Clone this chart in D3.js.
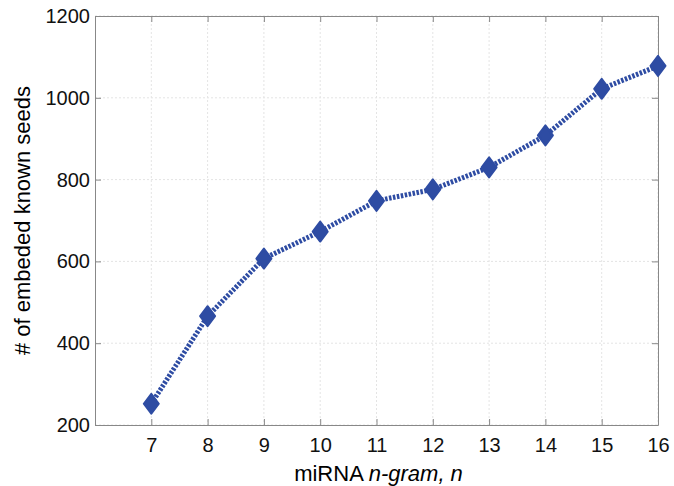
<!DOCTYPE html>
<html>
<head>
<meta charset="utf-8">
<script src="https://cdn.jsdelivr.net/npm/d3@7"></script>
<style>
  body { margin: 0; background: #fff; }
  text { font-family: "Liberation Sans", Arial, sans-serif; }
</style>
</head>
<body>
<div id="chart"></div>
<script>
// data
var ngram = [7, 8, 9, 10, 11, 12, 13, 14, 15, 16];
var seeds = [252, 466, 607, 673, 748, 776, 830, 908, 1022, 1078];
var xTicks = [7, 8, 9, 10, 11, 12, 13, 14, 15, 16];
var yTicks = [200, 400, 600, 800, 1000, 1200];

var margin = {top: 16, right: 16, bottom: 61, left: 95},
    width = 674 - margin.left - margin.right,
    height = 486 - margin.top - margin.bottom;

var svg = d3.select("#chart")
  .append("svg")
    .attr("width", 674)
    .attr("height", 486)
  .append("g")
    .attr("transform", "translate(" + margin.left + "," + margin.top + ")");

var x = d3.scaleLinear().domain([6, 16]).range([0, width]);
var y = d3.scaleLinear().domain([200, 1200]).range([height, 0]);

// grid
svg.append("g").selectAll("line")
  .data(xTicks)
  .enter().append("line")
    .attr("x1", d => x(d)).attr("x2", d => x(d))
    .attr("y1", 0).attr("y2", height)
    .attr("stroke", "#e4e4e4").attr("stroke-dasharray", "2,2");
svg.append("g").selectAll("line")
  .data(yTicks)
  .enter().append("line")
    .attr("x1", 0).attr("x2", width)
    .attr("y1", d => y(d)).attr("y2", d => y(d))
    .attr("stroke", "#e4e4e4").attr("stroke-dasharray", "2,2");

// axes, ticks inward like matlab
function styleAxis(g) {
  g.attr("font-size", null).attr("font-family", null);
  g.select(".domain").attr("stroke", "#888");
  g.selectAll(".tick line").attr("stroke", "#888");
  g.selectAll(".tick text").attr("fill", "#111").style("font-size", "20px");
}
svg.append("g")
  .attr("transform", "translate(0," + height + ")")
  .call(d3.axisBottom(x).tickValues(xTicks).tickSize(-6).tickSizeOuter(0).tickPadding(13))
  .call(styleAxis);
svg.append("g")
  .call(d3.axisLeft(y).tickValues(yTicks).tickFormat(d3.format("d")).tickSize(-6).tickSizeOuter(0).tickPadding(5))
  .call(styleAxis);
svg.append("g")
  .call(d3.axisTop(x).tickValues(xTicks).tickSize(-6).tickSizeOuter(0).tickFormat(""))
  .call(styleAxis);
svg.append("g")
  .attr("transform", "translate(" + width + ",0)")
  .call(d3.axisRight(y).tickValues(yTicks).tickSize(-6).tickSizeOuter(0).tickFormat(""))
  .call(styleAxis);

// line
var pts = ngram.map((n, i) => [n, seeds[i]]);
svg.append("path")
  .datum(pts)
  .attr("fill", "none")
  .attr("stroke", "#2e4ca3")
  .attr("stroke-width", 5)
  .attr("stroke-dasharray", "2.5,1.5")
  .attr("d", d3.line().x(d => x(d[0])).y(d => y(d[1])));

// diamonds
svg.append("g").selectAll("path")
  .data(pts)
  .enter().append("path")
    .attr("transform", d => "translate(" + x(d[0]) + "," + y(d[1]) + ")")
    .attr("d", "M0,-10L7.5,0L0,10L-7.5,0Z")
    .attr("fill", "#2e4ca3")
    .attr("stroke", "#2e4ca3")
    .attr("stroke-width", 2)
    .attr("stroke-linejoin", "round");

// labels
svg.append("text")
  .attr("text-anchor", "middle")
  .attr("x", width / 2 + 2)
  .attr("y", height + 56)
  .style("font-size", "22px")
  .html('miRNA <tspan font-style="italic">n-gram, n</tspan>');

svg.append("text")
  .attr("text-anchor", "middle")
  .attr("transform", "rotate(-90)")
  .attr("x", -height / 2)
  .attr("y", -65)
  .style("font-size", "22px")
  .text("# of embeded known seeds");
</script>
</body>
</html>
